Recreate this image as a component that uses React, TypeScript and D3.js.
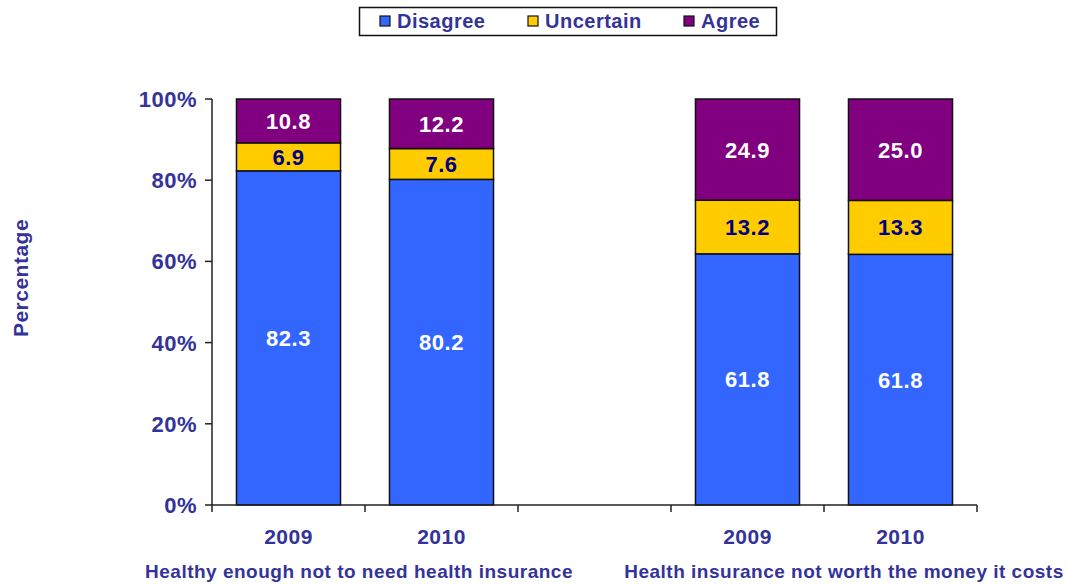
import React, { useEffect, useRef } from 'react';
import * as d3 from 'd3';

const seriesNames = ['Disagree', 'Uncertain', 'Agree'];
const seriesColors = ['#3366FF', '#FFCC00', '#800080'];
const labelColors = ['#FFFFFF', '#000080', '#FFFFFF'];

const slots = ['h2009', 'h2010', 'gap', 'w2009', 'w2010'];
const slotYears = ['2009', '2010', '', '2009', '2010'];
const disagree = [82.3, 80.2, null, 61.8, 61.8];
const uncertain = [6.9, 7.6, null, 13.2, 13.3];
const agree = [10.8, 12.2, null, 24.9, 25.0];
const groupLabels = ['Healthy enough not to need health insurance', 'Health insurance not worth the money it costs'];
const yTicks = [0, 20, 40, 60, 80, 100];

const textColor = '#333399';
const font = '"Liberation Sans", Arial, sans-serif';

const App: React.FC = () => {
  const ref = useRef<SVGSVGElement>(null);

  useEffect(() => {
    if (!ref.current) return;
    const W = 1068, H = 584;
    const svg = d3.select(ref.current);
    svg.selectAll('*').remove();
    svg.attr('width', W).attr('height', H).style('font-family', font).style('letter-spacing', '0.5px');

    const left = 212, right = 977, top = 99, bottom = 505;

    const rows = slots.map((s, i) => ({ slot: s, year: slotYears[i], Disagree: disagree[i], Uncertain: uncertain[i], Agree: agree[i] }))
      .filter(r => r.Disagree !== null);
    const stack = d3.stack<any>().keys(seriesNames).offset(d3.stackOffsetExpand);
    const stacked = stack(rows);

    const x = d3.scaleBand().domain(slots).range([left, right]).paddingInner(0.32).paddingOuter(0.16);
    const y = d3.scaleLinear().domain([0, 100]).range([bottom, top]);
    const step = x.step();

    // Y axis
    const gy = svg.append('g');
    gy.append('line').attr('x1', left).attr('x2', left).attr('y1', top).attr('y2', bottom)
      .attr('stroke', '#222').attr('stroke-width', 1.5);
    yTicks.forEach(t => {
      gy.append('line').attr('x1', left - 7).attr('x2', left).attr('y1', y(t)).attr('y2', y(t))
        .attr('stroke', '#222').attr('stroke-width', 1.5);
      gy.append('text').attr('x', left - 15).attr('y', y(t)).attr('dy', '0.36em')
        .attr('text-anchor', 'end').attr('fill', textColor).attr('font-size', 22).attr('font-weight', 'bold')
        .text(`${t}%`);
    });

    svg.append('text')
      .attr('transform', `translate(28,${(top + bottom) / 2 - 24}) rotate(-90)`)
      .attr('text-anchor', 'middle').attr('fill', textColor).attr('font-size', 21).attr('font-weight', 'bold')
      .text('Percentage');

    // Bars
    stacked.forEach((layer, li) => {
      const g = svg.append('g');
      layer.forEach(d => {
        const slot = (d.data as any).slot;
        const y0 = y(d[0] * 100), y1 = y(d[1] * 100);
        g.append('rect').attr('x', x(slot)!).attr('width', x.bandwidth())
          .attr('y', y1).attr('height', y0 - y1)
          .attr('fill', seriesColors[li]).attr('stroke', '#111').attr('stroke-width', 1.5);
        g.append('text').attr('x', x(slot)! + x.bandwidth() / 2).attr('y', (y0 + y1) / 2).attr('dy', '0.36em')
          .attr('text-anchor', 'middle').attr('fill', labelColors[li]).attr('font-size', 22).attr('font-weight', 'bold')
          .text((d.data as any)[seriesNames[li]].toFixed(1));
      });
    });

    // X axis
    const gx = svg.append('g');
    gx.append('line').attr('x1', left).attr('x2', right).attr('y1', bottom).attr('y2', bottom)
      .attr('stroke', '#222').attr('stroke-width', 1.5);
    d3.range(slots.length + 1).forEach(i => {
      const tx = left + i * step;
      gx.append('line').attr('x1', tx).attr('x2', tx).attr('y1', bottom).attr('y2', bottom + 7)
        .attr('stroke', '#222').attr('stroke-width', 1.5);
    });
    slots.forEach((s, i) => {
      if (!slotYears[i]) return;
      gx.append('text').attr('x', x(s)! + x.bandwidth() / 2).attr('y', 544)
        .attr('text-anchor', 'middle').attr('fill', textColor).attr('font-size', 21).attr('font-weight', 'bold')
        .text(slotYears[i]);
    });
    const groupCenters = [(left + left + 2 * step) / 2 - 6, (left + 3 * step + right) / 2 + 20];
    groupLabels.forEach((lab, i) => {
      gx.append('text').attr('x', groupCenters[i]).attr('y', 578)
        .attr('text-anchor', 'middle').attr('fill', textColor).attr('font-size', 19).attr('font-weight', 'bold')
        .text(lab);
    });

    // Legend
    const lg = svg.append('g');
    lg.append('rect').attr('x', 359.5).attr('y', 7.5).attr('width', 417).attr('height', 28)
      .attr('fill', '#fff').attr('stroke', '#111').attr('stroke-width', 1.5);
    const legendX = [380, 528, 684];
    seriesNames.forEach((n, i) => {
      lg.append('rect').attr('x', legendX[i]).attr('y', 16).attr('width', 10).attr('height', 10)
        .attr('fill', seriesColors[i]).attr('stroke', '#111').attr('stroke-width', 1.2);
      lg.append('text').attr('x', legendX[i] + 17).attr('y', 21).attr('dy', '0.36em')
        .attr('fill', textColor).attr('font-size', 20).attr('font-weight', 'bold')
        .text(n);
    });
  }, []);

  return <svg ref={ref} style={{ position: 'absolute', left: 0, top: 0 }}></svg>;
};

export default App;
